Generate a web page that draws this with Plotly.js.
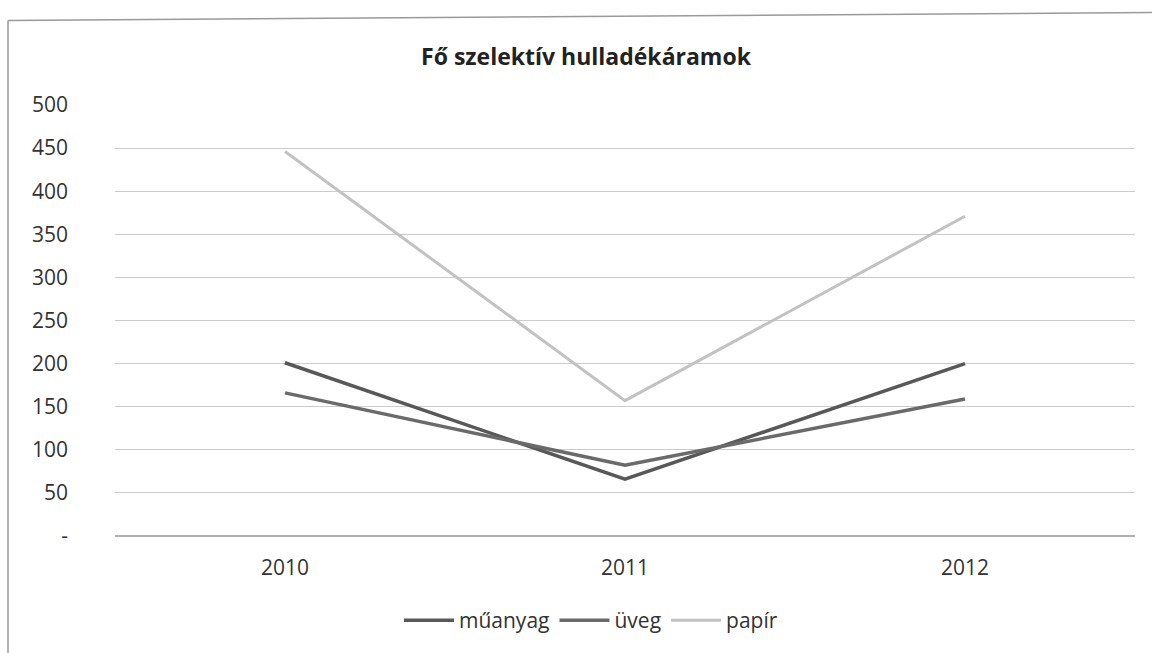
<!DOCTYPE html>
<html>
<head>
<meta charset="utf-8">
<script src="https://cdn.plot.ly/plotly-3.0.1.min.js"></script>
<style>
  html, body { margin: 0; padding: 0; background: #ffffff; }
  #chart { width: 1152px; height: 653px; }
</style>
</head>
<body>
<div id="chart"></div>
<script>
// ---- data ----
const years = ['2010', '2011', '2012'];
const muanyag = [201, 66, 200];
const uveg = [166, 82, 159];
const papir = [446, 157, 371];
const yTickVals = [0, 50, 100, 150, 200, 250, 300, 350, 400, 450, 500];
const yTickText = ['-', '50', '100', '150', '200', '250', '300', '350', '400', '450', '500'];

// ---- layout geometry (pixels) ----
const W = 1152, H = 653;
const ML = 115, MR = 17, MT = 105, MB = 115;
const PW = W - ML - MR, PH = H - MT - MB;
const px = x => (x - ML) / PW;
const py = y => (H - MB - y) / PH;

const FONT = '"Open Sans", "Noto Sans", sans-serif';

const traces = [
  { name: 'műanyag', x: years, y: muanyag, type: 'scatter', mode: 'lines',
    line: { color: '#585858', width: 3.5 } },
  { name: 'üveg', x: years, y: uveg, type: 'scatter', mode: 'lines',
    line: { color: '#6a6a6a', width: 3.5 } },
  { name: 'papír', x: years, y: papir, type: 'scatter', mode: 'lines',
    line: { color: '#c2c2c2', width: 3 } }
];

const layout = {
  width: W, height: H,
  margin: { l: ML, r: MR, t: MT, b: MB },
  paper_bgcolor: '#ffffff',
  plot_bgcolor: '#ffffff',
  font: { family: FONT, color: '#333333', size: 21 },
  title: {
    text: '<b>Fő szelektív hulladékáramok</b>',
    font: { family: FONT, size: 23, color: '#222222' },
    x: 586 / W, xanchor: 'center',
    y: 1 - 57 / H, yanchor: 'middle', yref: 'container'
  },
  xaxis: {
    type: 'category',
    range: [-0.5, 2.5],
    showgrid: false,
    zeroline: false,
    showline: false,
    ticks: '',
    ticklabelstandoff: 17,
    tickfont: { family: FONT, size: 21, color: '#333333' },
    fixedrange: true
  },
  yaxis: {
    range: [0, 500],
    tickvals: yTickVals,
    ticktext: yTickText,
    showgrid: true,
    gridcolor: '#cccccc',
    gridwidth: 1,
    zeroline: true,
    zerolinecolor: '#b0b0b0',
    zerolinewidth: 1.5,
    showline: false,
    ticks: '',
    ticklabelstandoff: 46,
    tickfont: { family: FONT, size: 21, color: '#333333' },
    fixedrange: true
  },
  legend: {
    orientation: 'h',
    x: px(591), xanchor: 'center',
    y: py(623), yanchor: 'middle',
    font: { family: FONT, size: 21, color: '#333333' },
    itemwidth: 50,
    traceorder: 'normal',
    bgcolor: 'rgba(0,0,0,0)'
  },
  showlegend: true,
  shapes: [
    { type: 'line', xref: 'paper', yref: 'paper',
      x0: px(8), y0: py(20), x1: px(8), y1: py(H + 5),
      line: { color: '#9a9a9a', width: 1.5 } },
    { type: 'line', xref: 'paper', yref: 'paper',
      x0: px(8), y0: py(20), x1: px(W + 5), y1: py(12),
      line: { color: '#9a9a9a', width: 1.5 } }
  ]
};

Plotly.newPlot('chart', traces, layout, { displayModeBar: false, staticPlot: true });
</script>
</body>
</html>
